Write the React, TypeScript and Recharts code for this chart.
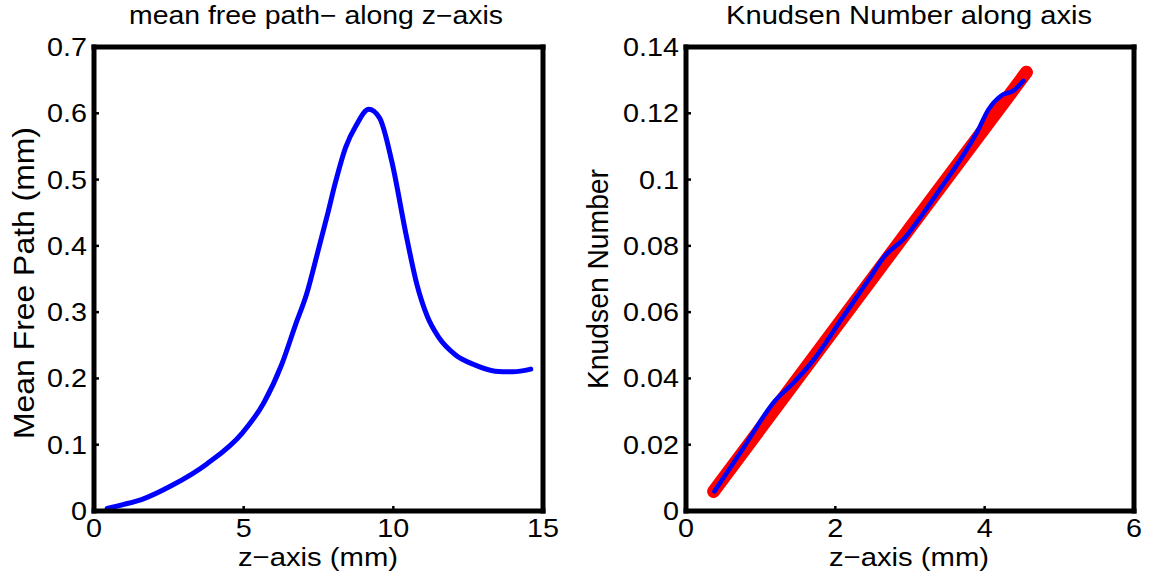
import { LineChart, Line, XAxis, YAxis } from "recharts";

// left panel: mean free path along z
const mfpZ = [0.44, 1.0, 1.63, 2.58, 3.77, 4.96, 5.67, 6.27, 6.74, 7.1, 7.46, 7.81, 8.05, 8.41, 8.76, 9.18, 9.54, 9.95, 10.43, 10.78, 11.14, 11.5, 12.09, 12.69, 13.4, 13.99, 14.59];
const mfpVal = [0.004, 0.01, 0.018, 0.038, 0.071, 0.118, 0.163, 0.221, 0.282, 0.327, 0.388, 0.449, 0.493, 0.549, 0.582, 0.606, 0.593, 0.527, 0.416, 0.343, 0.293, 0.263, 0.235, 0.221, 0.211, 0.21, 0.214];

// right panel: Knudsen number (blue) and straight fit (red)
const knZ = [0.38, 0.76, 1.19, 1.44, 1.68, 2.11, 2.45, 2.65, 2.94, 3.18, 3.42, 3.66, 3.9, 4.05, 4.22, 4.39, 4.52];
const knVal = [0.0059, 0.0187, 0.0332, 0.0387, 0.0448, 0.0588, 0.0699, 0.0766, 0.0827, 0.0899, 0.0977, 0.1055, 0.1144, 0.1211, 0.1253, 0.1269, 0.1298];
const fitZ = [0.37, 1.5, 3.0, 4.56];
const fitVal = [0.0059, 0.0401, 0.0854, 0.1324];

const xTicksL = [0, 5, 10, 15];
const yTicksL = [0, 0.1, 0.2, 0.3, 0.4, 0.5, 0.6, 0.7];
const xTicksR = [0, 2, 4, 6];
const yTicksR = [0, 0.02, 0.04, 0.06, 0.08, 0.1, 0.12, 0.14];

const mfpData = mfpZ.map((z, i) => ({ z, v: mfpVal[i] }));
const knData = knZ.map((z, i) => ({ z, v: knVal[i] }));
const fitData = fitZ.map((z, i) => ({ z, v: fitVal[i] }));

const frame = { stroke: "#000", strokeWidth: 5, strokeLinecap: "square" as const };
const tl = { stroke: "#000", strokeWidth: 2.5 };

function XTick({ x, y, payload }: any) {
  return (
    <text transform={`translate(${x},${y + 26}) scale(1.15,1)`} textAnchor="middle" fontSize={25} fill="#000">
      {payload.value}
    </text>
  );
}

function YTick({ x, y, payload }: any) {
  return (
    <text transform={`translate(${x - 7},${y + 9}) scale(1.15,1)`} textAnchor="end" fontSize={25} fill="#000">
      {payload.value}
    </text>
  );
}

function Panel({ left, width, margin, xDomain, yDomain, xTicks, yTicks, children }: any) {
  return (
    <div style={{ position: "absolute", left, top: 0 }}>
      <LineChart width={width} height={577} margin={margin}>
        <XAxis type="number" dataKey="z" domain={xDomain} ticks={xTicks} height={1} tickSize={-5} tickMargin={5} axisLine={frame} tickLine={tl} tick={<XTick />} interval={0} />
        <XAxis xAxisId="top" orientation="top" type="number" dataKey="z" domain={xDomain} ticks={xTicks} height={1} mirror tickSize={5} axisLine={frame} tickLine={tl} tick={false} interval={0} />
        <YAxis type="number" domain={yDomain} ticks={yTicks} width={1} tickSize={-5} tickMargin={5} axisLine={frame} tickLine={tl} tick={<YTick />} interval={0} />
        <YAxis yAxisId="right" orientation="right" type="number" domain={yDomain} ticks={yTicks} width={1} mirror tickSize={5} axisLine={frame} tickLine={tl} tick={false} interval={0} />
        {children}
      </LineChart>
    </div>
  );
}

export default function App() {
  return (
    <div style={{ position: "absolute", left: 0, top: 0, width: 1149, height: 577, background: "#fff", fontFamily: "'Liberation Sans', Arial, sans-serif" }}>
      <Panel left={0} width={580} margin={{ top: 47, right: 37, bottom: 65, left: 93 }} xDomain={[0, 15]} yDomain={[0, 0.7]} xTicks={xTicksL} yTicks={yTicksL}>
        <Line data={mfpData} dataKey="v" type="monotone" stroke="#0000ff" strokeWidth={5} dot={false} isAnimationActive={false} strokeLinecap="round" />
      </Panel>
      <Panel left={580} width={569} margin={{ top: 47, right: 15, bottom: 65, left: 105 }} xDomain={[0, 6]} yDomain={[0, 0.14]} xTicks={xTicksR} yTicks={yTicksR}>
        <Line data={fitData} dataKey="v" type="linear" stroke="#ff0000" strokeWidth={13} dot={false} isAnimationActive={false} strokeLinecap="round" />
        <Line data={knData} dataKey="v" type="monotone" stroke="#0000ff" strokeWidth={4.5} dot={false} isAnimationActive={false} strokeLinecap="round" />
      </Panel>
      <svg width={1149} height={577} style={{ position: "absolute", left: 0, top: 0, pointerEvents: "none" }}>
        <text x={316} y={24} textAnchor="middle" fontSize={25} textLength={374} lengthAdjust="spacingAndGlyphs">mean free path− along z−axis</text>
        <text x={909} y={24} textAnchor="middle" fontSize={25} textLength={366} lengthAdjust="spacingAndGlyphs">Knudsen Number along axis</text>
        <text x={318} y={566} textAnchor="middle" fontSize={26} textLength={160} lengthAdjust="spacingAndGlyphs">z−axis (mm)</text>
        <text x={909} y={566} textAnchor="middle" fontSize={26} textLength={160} lengthAdjust="spacingAndGlyphs">z−axis (mm)</text>
        <text transform="translate(34,283) rotate(-90)" textAnchor="middle" fontSize={29} textLength={312} lengthAdjust="spacingAndGlyphs">Mean Free Path (mm)</text>
        <text transform="translate(608,279) rotate(-90)" textAnchor="middle" fontSize={29} textLength={220} lengthAdjust="spacingAndGlyphs">Knudsen Number</text>
      </svg>
    </div>
  );
}
